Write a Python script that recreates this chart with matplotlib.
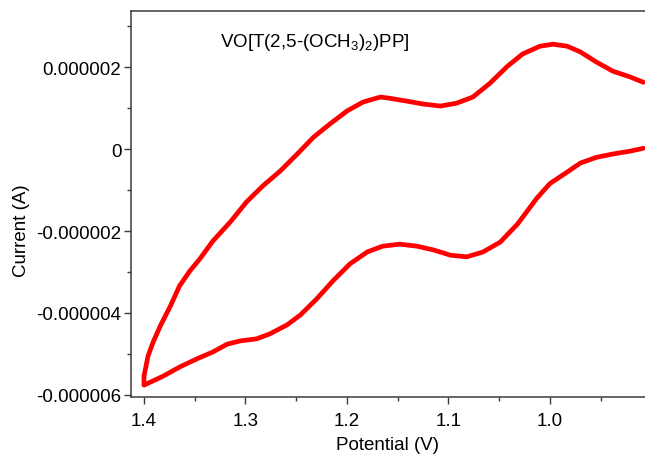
import matplotlib
matplotlib.use("Agg")
from matplotlib import pyplot as plt
from matplotlib.ticker import MultipleLocator, FuncFormatter, FormatStrFormatter

plt.rcParams['font.family'] = ['Liberation Sans', 'DejaVu Sans']
plt.rcParams['mathtext.default'] = 'regular'

# upper branch of the voltammogram (potential in V, current in uA)
upper_potential = [1.400, 1.396, 1.391, 1.384, 1.374, 1.365, 1.355, 1.345, 1.332, 1.315,
                   1.299, 1.283, 1.266, 1.249, 1.233, 1.217, 1.200, 1.184, 1.167, 1.158,
                   1.141, 1.125, 1.108, 1.092, 1.076, 1.059, 1.042, 1.027, 1.010, 0.997,
                   0.983, 0.970, 0.954, 0.938, 0.921, 0.908]
upper_current = [-5.54, -5.05, -4.71, -4.32, -3.83, -3.34, -2.98, -2.68, -2.24, -1.78,
                 -1.29, -0.90, -0.54, -0.12, 0.29, 0.61, 0.93, 1.15, 1.27, 1.24,
                 1.17, 1.10, 1.05, 1.12, 1.27, 1.61, 2.02, 2.32, 2.51, 2.56,
                 2.51, 2.37, 2.12, 1.90, 1.76, 1.63]

# lower branch
lower_potential = [1.400, 1.381, 1.365, 1.348, 1.332, 1.318, 1.305, 1.289, 1.276, 1.259,
                   1.246, 1.230, 1.214, 1.197, 1.180, 1.165, 1.148, 1.131, 1.115, 1.098,
                   1.082, 1.066, 1.049, 1.032, 1.013, 1.000, 0.983, 0.970, 0.954, 0.938,
                   0.921, 0.908]
lower_current = [-5.76, -5.54, -5.32, -5.12, -4.95, -4.76, -4.68, -4.63, -4.51, -4.29,
                 -4.05, -3.66, -3.22, -2.80, -2.51, -2.37, -2.32, -2.37, -2.46, -2.59,
                 -2.63, -2.51, -2.27, -1.83, -1.20, -0.84, -0.56, -0.34, -0.20, -0.12,
                 -0.05, 0.02]

title = "VO[T(2,5-(OCH$_3$)$_2$)PP]"


def main():
    # one closed loop: upper branch back to 1.4 V, then lower branch out again
    x = upper_potential[::-1] + lower_potential
    y = [c * 1e-6 for c in upper_current[::-1] + lower_current]

    fig = plt.figure(figsize=(6.45, 4.56), dpi=100)
    ax = fig.add_axes([0.2031, 0.1272, 0.7969, 0.8465])

    ax.plot(x, y, color='#ff0000', linewidth=3.4, solid_joinstyle='round', solid_capstyle='round')

    ax.set_xlim(1.4128, 0.9064)
    ax.set_ylim(-6.05e-6, 3.37e-6)

    ax.xaxis.set_major_locator(MultipleLocator(0.1))
    ax.xaxis.set_minor_locator(MultipleLocator(0.05))
    ax.xaxis.set_major_formatter(FormatStrFormatter('%.1f'))
    ax.yaxis.set_major_locator(MultipleLocator(2e-6))
    ax.yaxis.set_minor_locator(MultipleLocator(1e-6))
    ax.yaxis.set_major_formatter(FuncFormatter(lambda v, p: '0' if abs(v) < 1e-12 else '%.6f' % v))

    spine_col = '#3c3c3c'
    ax.spines['right'].set_visible(False)
    for s in ['left', 'bottom', 'top']:
        ax.spines[s].set_color(spine_col)
        ax.spines[s].set_linewidth(1.1)

    ax.tick_params(which='both', direction='out', color=spine_col, width=1.0, labelsize=13.5)
    ax.tick_params(which='major', length=5)
    ax.tick_params(which='minor', length=3)
    ax.tick_params(axis='x', which='major', pad=6)
    ax.tick_params(axis='y', which='major', pad=2)
    ax.tick_params(top=False, right=False, which='both')

    ax.set_xlabel('Potential (V)', fontsize=13.5, labelpad=5)
    ax.set_ylabel('Current (A)', fontsize=13.5)
    ax.yaxis.set_label_coords(-0.196, 0.433)

    ax.text(0.173, 0.922, title, transform=ax.transAxes, fontsize=13.5, ha='left', va='center')

    fig.savefig('out.png', dpi=100)


main()
